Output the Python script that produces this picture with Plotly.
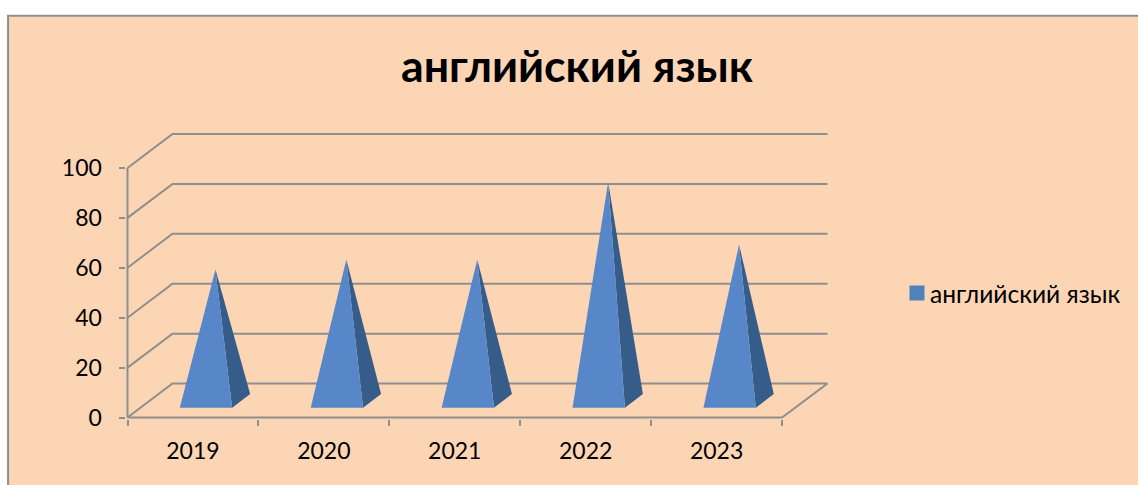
import plotly.graph_objects as go

# Data
years = ["2019", "2020", "2021", "2022", "2023"]
values = [52.5, 56.5, 56.5, 87.5, 62.5]
series_name = "английский язык"
y_ticks = [0, 20, 40, 60, 80, 100]

# Styles
GRID = "#8E8E8E"
BG = "#FCD5B5"
FRONT = "#5787C8"
SIDE = "#365C89"
SWATCH = "#4F81BD"
FONT = "Lato, 'Open Sans', sans-serif"

# Layout in pixels
PAD = 1.5                # spare room so the outer lines are not clipped
L, R, T, B = 127.5, 828, 134.5, 418
W, H = 1138, 485
slot_px = 131
unit_px = 2.5
dx = 45 / slot_px        # depth shift along x, in category units
dy = 34 / unit_px        # depth shift along y, in value units
x_lo = -0.5
x_hi = x_lo + (R - L) / slot_px
x_front_hi = x_lo + len(years)
y_hi = (B - T) / unit_px

half_w = 0.2
d_front, d_back = 0.29, 0.69
d_mid = 0.5

fig = go.Figure()


def line(xs, ys):
    fig.add_trace(go.Scatter(x=xs, y=ys, mode="lines", showlegend=False, hoverinfo="skip",
                             line=dict(color=GRID, width=2), cliponaxis=False))


# Wall gridlines with the receding part on the left side wall
for v in y_ticks:
    line([x_lo, x_lo + dx, x_hi], [v, v + dy, v + dy])
# y axis, x axis and right floor edge
line([x_lo, x_lo], [0, 100])
line([x_lo, x_front_hi, x_hi], [0, 0, dy])

# Pyramids
for i, v in enumerate(values):
    ax, ay = i + dx * d_mid, v + dy * d_mid
    fl_x, fr_x = i - half_w + dx * d_front, i + half_w + dx * d_front
    f_y = dy * d_front
    br_x, b_y = i + half_w + dx * d_back, dy * d_back
    fig.add_trace(go.Scatter(x=[ax, fr_x, br_x, ax], y=[ay, f_y, b_y, ay], mode="lines", fill="toself",
                             fillcolor=SIDE, line=dict(width=0), showlegend=False, hoverinfo="skip"))
    fig.add_trace(go.Scatter(x=[ax, fl_x, fr_x, ax], y=[ay, f_y, f_y, ay], mode="lines", fill="toself",
                             fillcolor=FRONT, line=dict(width=0), showlegend=False,
                             name=years[i], hoverinfo="skip"))

# Legend entry
fig.add_trace(go.Scatter(x=[None], y=[None], mode="markers", name=series_name,
                         marker=dict(symbol="square", size=15, color=SWATCH)))

# Plot area including the spare room
PL, PR, PT, PB = L - PAD, R + PAD, T - PAD, B + PAD
pw, ph = PR - PL, PB - PT
fig.update_layout(
    width=W, height=H,
    margin=dict(l=PL, r=W - PR, t=PT, b=H - PB, pad=0),
    paper_bgcolor="white",
    plot_bgcolor="rgba(0,0,0,0)",
    font=dict(family=FONT, color="black", size=23),
    title=dict(text="<b>" + series_name + "</b>", x=577 / W, xanchor="center", xref="container",
               y=1 - 66 / H, yanchor="middle", yref="container",
               font=dict(family=FONT, size=44.7, color="black")),
    xaxis=dict(range=[x_lo - PAD / slot_px, x_hi + PAD / slot_px], tickvals=list(range(len(years))),
               ticktext=years, ticks="", showgrid=False, zeroline=False, showline=False, ticklabelstandoff=16,
               minor=dict(tickvals=[x_lo + k for k in range(len(years) + 1)], ticks="outside",
                          ticklen=5.5, tickwidth=2, tickcolor=GRID, showgrid=False),
               tickfont=dict(size=23)),
    yaxis=dict(range=[-PAD / unit_px, y_hi + PAD / unit_px], tickvals=y_ticks, ticks="outside", ticklen=6.5,
               tickwidth=2, tickcolor=GRID, showgrid=False, zeroline=False, showline=False,
               tickfont=dict(size=23), ticklabelstandoff=12),
    legend=dict(x=897 / W, xref="container", xanchor="left", y=1 - 293 / H, yref="container", yanchor="middle",
                bgcolor="rgba(0,0,0,0)", font=dict(size=24.6), itemwidth=30),
    shapes=[dict(type="rect", xref="paper", yref="paper", layer="below",
                 x0=(8 - PL) / pw, x1=(W + 20 - PL) / pw, y0=(PB - H - 20) / ph, y1=(PB - 15.5) / ph,
                 fillcolor=BG, line=dict(color=GRID, width=2))],
)

# Legend text sits closer to its swatch than Plotly's fixed gap allows
post = ("document.body.style.margin='0';"
        "document.querySelectorAll('.legendtext').forEach(function(t){"
        "t.setAttribute('x', parseFloat(t.getAttribute('x')) - 7);});")
fig.write_html("out.html", post_script=post, config={"displayModeBar": False})
